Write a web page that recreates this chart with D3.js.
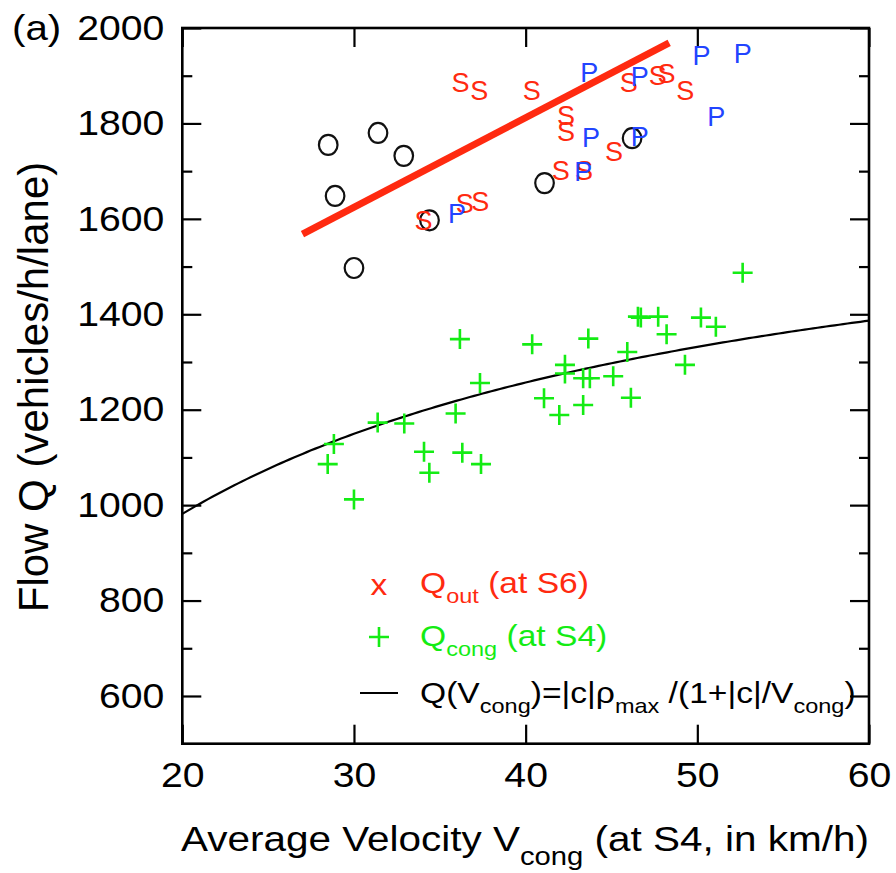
<!DOCTYPE html>
<html>
<head>
<meta charset="utf-8">
<script src="https://cdn.jsdelivr.net/npm/d3@7"></script>
<style>
  html, body { margin: 0; padding: 0; background: #fff; }
  svg { display: block; font-family: "Liberation Sans", Arial, Helvetica, sans-serif; }
</style>
</head>
<body>
<svg id="chart" width="896" height="873"></svg>
<script>
// ---- Data -------------------------------------------------------------
// Outflow points (red "S"), average velocity [km/h] and flow [veh/h/lane]
const sVel  = [36.2, 37.3, 40.35, 42.35, 42.35, 42.05, 43.4, 45.15, 46.0, 47.7, 48.2, 49.3, 34.05, 36.45, 37.35];
const sFlow = [1887, 1870, 1870, 1818, 1783, 1702, 1702, 1741, 1887, 1901, 1905, 1870, 1597, 1633, 1637];
// Outflow points (blue "P")
const pVel  = [43.7, 46.65, 50.25, 52.65, 51.1, 43.8, 46.65, 43.35, 36.0];
const pFlow = [1908, 1898, 1943, 1948, 1814, 1772, 1774, 1699, 1612];
// Outflow points (black circles)
const oVel  = [28.5, 28.9, 31.4, 32.9, 30.0, 34.4, 41.1, 46.2];
const oFlow = [1755, 1648, 1780, 1732, 1497, 1597, 1675, 1769];
// Congested flow at S4 (green crosses)
const gVel  = [28.83, 28.47, 30.0, 31.38, 32.93, 34.08, 34.39, 35.92, 36.17, 36.31, 37.34, 37.40,
               40.38, 42.29, 42.29, 41.07, 41.96, 43.35, 43.35, 43.74, 43.65, 45.10, 45.92, 46.13,
               46.54, 46.71, 47.72, 48.21, 49.28, 50.21, 51.08, 52.64];
const gFlow = [1128, 1086, 1012, 1173, 1171, 1112, 1068, 1192, 1348, 1110, 1256, 1086,
               1337, 1294, 1276, 1224, 1189, 1210, 1266, 1266, 1349, 1270, 1321, 1225,
               1395, 1393, 1395, 1358, 1294, 1393, 1374, 1487];
// Linear trend of the outflow
const trendVel  = [27.0, 48.36];
const trendFlow = [1568, 1969];
// Model Q(V) = |c| rho_max / (1 + |c| / V)
const cAbs = 15.6;     // km/h
const rhoMax = 112;    // veh/km/lane
// Axis ticks
const xTicks = [20, 30, 40, 50, 60];
const yTicks = [600, 800, 1000, 1200, 1400, 1600, 1800, 2000];
const yMinorTicks = [700, 900, 1100, 1300, 1500, 1700, 1900];

// ---- Setup ------------------------------------------------------------
const svg = d3.select("#chart");
const L = 182.3, R = 869, T = 28, B = 743.7;
const x = d3.scaleLinear().domain([20, 60]).range([L, R]);
const y = d3.scaleLinear().domain([500, 2000]).range([B, T]);

const RED = "#ff2a10", BLUE = "#2244ff", GREEN = "#14ec14";
const SX = 1.12;            // horizontal stretch of the lettering
const TICK_FS = 35;

// place a text at (px, py) with the lettering stretched horizontally
function stretched(sel, px, py, sx = SX) {
  return sel.attr("x", null).attr("y", null)
    .attr("transform", `translate(${px},${py}) scale(${sx},1)`);
}

// Axes with inward ticks on all four sides
function styleAxis(g) {
  g.select(".domain").remove();
  g.selectAll(".tick line").attr("stroke", "#000").attr("stroke-width", 2.2);
}
svg.append("g").attr("transform", `translate(0,${B})`)
  .call(d3.axisBottom(x).tickValues(xTicks).tickSize(-19).tickPadding(18).tickFormat(d3.format("d")))
  .call(styleAxis)
  .call(g => g.selectAll(".tick text").attr("font-size", TICK_FS).attr("fill", "#000")
    .attr("font-family", "Liberation Sans, Arial, sans-serif")
    .each(function() { const t = d3.select(this); stretched(t, 0, +t.attr("y")); }));
svg.append("g").attr("transform", `translate(0,${T})`)
  .call(d3.axisTop(x).tickValues(xTicks).tickSize(-19).tickFormat(""))
  .call(styleAxis);
svg.append("g").attr("transform", `translate(${L},0)`)
  .call(d3.axisLeft(y).tickValues(yTicks).tickSize(-19).tickPadding(18).tickFormat(d3.format("d")))
  .call(styleAxis)
  .call(g => g.selectAll(".tick text").attr("font-size", TICK_FS).attr("fill", "#000")
    .attr("font-family", "Liberation Sans, Arial, sans-serif")
    .each(function() { const t = d3.select(this); stretched(t, +t.attr("x"), 0); }));
svg.append("g").attr("transform", `translate(${L},0)`)
  .call(d3.axisLeft(y).tickValues(yMinorTicks).tickSize(-10).tickFormat(""))
  .call(styleAxis);
svg.append("g").attr("transform", `translate(${R},0)`)
  .call(d3.axisRight(y).tickValues(yTicks).tickSize(-19).tickFormat(""))
  .call(styleAxis);
svg.append("g").attr("transform", `translate(${R},0)`)
  .call(d3.axisRight(y).tickValues(yMinorTicks).tickSize(-10).tickFormat(""))
  .call(styleAxis);

// Frame
svg.append("rect").attr("x", L).attr("y", T).attr("width", R - L).attr("height", B - T)
  .attr("fill", "none").attr("stroke", "#000").attr("stroke-width", 2.6);

// ---- Model curve ------------------------------------------------------
const curveV = d3.range(20, 60.01, 0.25);
svg.append("path")
  .datum(curveV)
  .attr("fill", "none").attr("stroke", "#000").attr("stroke-width", 2.2)
  .attr("d", d3.line().x(v => x(v)).y(v => y(cAbs * rhoMax / (1 + cAbs / v))));

// ---- Congested flow crosses ------------------------------------------
const cross = "M-10,0H10M0,-10V10";
svg.append("g").selectAll("path").data(gVel.map((v, i) => [v, gFlow[i]])).join("path")
  .attr("transform", d => `translate(${x(d[0])},${y(d[1])})`)
  .attr("d", cross).attr("stroke", GREEN).attr("stroke-width", 2.6).attr("fill", "none");

// ---- Outflow markers --------------------------------------------------
svg.append("g").selectAll("ellipse").data(oVel.map((v, i) => [v, oFlow[i]])).join("ellipse")
  .attr("cx", d => x(d[0])).attr("cy", d => y(d[1]))
  .attr("rx", 9.3).attr("ry", 10).attr("fill", "none").attr("stroke", "#111").attr("stroke-width", 2.2);

svg.append("g").selectAll("text").data(sVel.map((v, i) => [v, sFlow[i]])).join("text")
  .attr("x", d => x(d[0])).attr("y", d => y(d[1])).attr("dy", "0.36em")
  .attr("text-anchor", "middle").attr("font-size", 27).attr("fill", RED).text("S");

svg.append("g").selectAll("text").data(pVel.map((v, i) => [v, pFlow[i]])).join("text")
  .attr("x", d => x(d[0])).attr("y", d => y(d[1])).attr("dy", "0.36em")
  .attr("text-anchor", "middle").attr("font-size", 27).attr("fill", BLUE).text("P");

// Trend line
svg.append("path")
  .datum(trendVel.map((v, i) => [v, trendFlow[i]]))
  .attr("fill", "none").attr("stroke", RED).attr("stroke-width", 7)
  .attr("d", d3.line().x(d => x(d[0])).y(d => y(d[1])));

// ---- Legend -----------------------------------------------------------
const LEG_FS = 30, SUB_FS = 21, SUB_DY = 10;
const leg = svg.append("g").attr("font-size", LEG_FS);
stretched(leg.append("text").attr("text-anchor", "middle").attr("fill", RED).text("x"), 379, 595);

const t1 = stretched(leg.append("text").attr("fill", RED), 420, 593);
t1.append("tspan").text("Q");
t1.append("tspan").attr("font-size", SUB_FS).attr("dy", SUB_DY).text("out");
t1.append("tspan").attr("dy", -SUB_DY).text(" (at S6)");

leg.append("path").attr("transform", "translate(379,637)").attr("d", cross)
  .attr("stroke", GREEN).attr("stroke-width", 2.6);
const t2 = stretched(leg.append("text").attr("fill", GREEN), 420, 646);
t2.append("tspan").text("Q");
t2.append("tspan").attr("font-size", SUB_FS).attr("dy", SUB_DY).text("cong");
t2.append("tspan").attr("dy", -SUB_DY).text(" (at S4)");

leg.append("line").attr("x1", 360).attr("x2", 398).attr("y1", 693).attr("y2", 693)
  .attr("stroke", "#000").attr("stroke-width", 2.2);
const t3 = stretched(leg.append("text").attr("fill", "#000"), 420, 703);
t3.append("tspan").text("Q(V");
t3.append("tspan").attr("font-size", SUB_FS).attr("dy", SUB_DY).text("cong");
t3.append("tspan").attr("dy", -SUB_DY).text(")=|c|\u03C1");
t3.append("tspan").attr("font-size", SUB_FS).attr("dy", SUB_DY).text("max");
t3.append("tspan").attr("dy", -SUB_DY).text(" /(1+|c|/V");
t3.append("tspan").attr("font-size", SUB_FS).attr("dy", SUB_DY).text("cong");
t3.append("tspan").attr("dy", -SUB_DY).text(")");

// ---- Axis titles ------------------------------------------------------
const xl = stretched(svg.append("text").attr("text-anchor", "middle")
  .attr("font-size", 36).attr("fill", "#000"), 525, 851, 1.125);
xl.append("tspan").text("Average Velocity V");
xl.append("tspan").attr("font-size", 26).attr("dy", 14).text("cong");
xl.append("tspan").attr("dy", -14).text(" (at S4, in km/h)");

svg.append("text").attr("transform", "translate(48,387) rotate(-90)")
  .attr("text-anchor", "middle").attr("font-size", 42).attr("fill", "#000")
  .text("Flow Q (vehicles/h/lane)");

stretched(svg.append("text").attr("font-size", 36).attr("fill", "#000").text("(a)"), 12, 40);
</script>
</body>
</html>
